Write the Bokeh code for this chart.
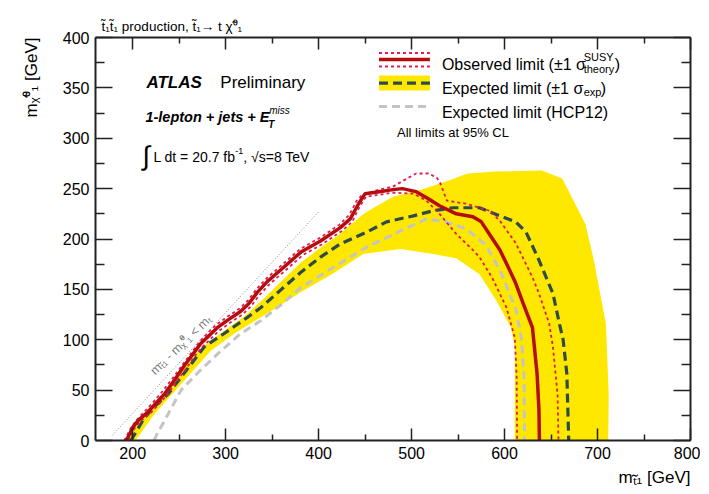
from math import pi, radians
from bokeh.plotting import figure
from bokeh.models import Label, LinearAxis, FixedTicker, Range1d, Title
from bokeh.embed import file_html
from bokeh.resources import INLINE

# ---------------- data (GeV) ----------------
# Observed limit
obs_x = [193, 196, 200, 206, 216, 225, 234, 245, 256, 265, 273, 282, 291, 303, 316, 325, 334, 345, 360, 381, 402, 423, 434, 443, 450, 465, 480, 490, 505, 518, 530, 548, 566, 575, 585, 595, 605, 612, 620, 630, 635, 637, 637.5]
obs_y = [0, 5, 13, 20, 28, 37, 46, 60, 75, 86, 96, 104, 112, 120, 128, 136, 147, 158, 170, 187, 198, 211, 220, 235, 245, 247, 249, 250, 247, 240, 233, 225, 222, 217, 203, 189, 170, 156, 136, 112, 66, 30, 0]
# Observed +1 sigma theory
up_x = [191, 195, 199, 205, 214, 224, 233, 244, 255, 264, 272, 281, 290, 302, 315, 324, 333, 344, 359, 380, 401, 422, 433, 441, 447, 465, 480, 495, 505, 518, 527, 531, 538, 559, 584, 595, 612, 630, 637, 648, 652, 657, 658]
up_y = [0, 7, 14, 21, 30, 40, 50, 63, 77, 88, 98, 107, 115, 123, 131, 139, 150, 161, 173, 190, 201, 214, 224, 238, 244, 249, 252, 260, 265, 265, 261, 255, 238, 235, 228, 218, 196, 162, 146, 116, 93, 46, 0]
# Observed -1 sigma theory
dn_x = [195, 198, 202, 208, 218, 227, 236, 247, 258, 267, 275, 284, 293, 305, 318, 327, 336, 347, 362, 383, 404, 425, 436, 444, 451, 480, 502, 516, 530, 548, 566, 573, 587, 602, 611, 613, 613.5]
dn_y = [0, 5, 12, 19, 26, 35, 44, 58, 72, 84, 93, 101, 109, 117, 125, 133, 144, 155, 167, 184, 195, 208, 217, 232, 242, 246, 245, 238, 225, 205, 189, 182, 161, 132, 102, 63, 0]
# Expected limit
exp_x = [198, 202, 213, 225, 238, 258, 277, 298, 323, 338, 360, 381, 402, 423, 452, 473, 502, 523, 545, 573, 595, 612, 623, 637, 652, 659, 663, 667, 669]
exp_y = [0, 6, 23, 35, 46, 70, 93, 106, 122, 132, 150, 167, 182, 195, 207, 217, 223, 228, 231, 231, 223, 217, 207, 179, 146, 116, 100, 66, 0]
# Expected limit (HCP12)
hcp_x = [223, 226, 238, 252, 273, 295, 316, 338, 360, 381, 416, 452, 488, 516, 537, 559, 580, 595, 612, 618, 621, 621.5]
hcp_y = [0, 6, 26, 50, 70, 89, 106, 119, 135, 152, 172, 192, 208, 220, 217, 210, 194, 169, 131, 102, 63, 0]
# +-1 sigma expected band
band_up_x = [194, 199, 214, 234, 254, 274, 300, 320, 340, 360, 380, 400, 420, 450, 480, 510, 540, 560, 590, 640, 662, 687, 696, 709, 712, 711.5]
band_up_y = [0, 12, 27, 45, 71, 92, 110, 123, 140, 158, 176, 190, 203, 226, 242, 249, 258, 265, 267, 268, 260, 215, 179, 116, 46, 0]
band_lo_x = [203, 224, 256, 284, 309, 334, 360, 380, 416, 448, 488, 523, 548, 573, 591, 607, 611, 611]
band_lo_y = [0, 27, 60, 89, 106, 120, 135, 147, 166, 185, 190, 185, 181, 165, 139, 112, 93, 0]
# kinematic boundary m_stop - m_LSP = m_top
m_top = 173
diag_x = [178, 400]
diag_y = [v - m_top for v in diag_x]

x_major = [200, 300, 400, 500, 600, 700, 800]
x_minor = [250, 350, 450, 550, 650, 750]
y_major = [0, 50, 100, 150, 200, 250, 300, 350, 400]
y_minor = [25, 75, 125, 175, 225, 275, 325, 375]

# ---------------- colours ----------------
C_OBS = "#b50d0d"
C_SIG = "#e8194d"
C_EXP = "#2f4a4a"
C_BAND = "#ffe800"
C_HCP = "#c4c4c4"
FONT = "Liberation Sans"

W, H = 700, 491
p = figure(width=W, height=H, x_range=Range1d(160, 800), y_range=Range1d(0, 400),
           output_backend="svg", toolbar_location=None, title=None,
           x_axis_location=None, y_axis_location=None,
           min_border_left=94, min_border_right=10, min_border_top=37, min_border_bottom=51)
p.outline_line_color = None
p.xgrid.grid_line_color = None
p.ygrid.grid_line_color = None


def make_axis(major, minor, tin, tmin, labels=True):
    ax = LinearAxis(ticker=FixedTicker(ticks=major, minor_ticks=minor),
                    major_tick_in=tin, major_tick_out=0, minor_tick_in=tmin, minor_tick_out=0,
                    axis_line_width=2, axis_line_color="#222222",
                    major_tick_line_width=1.5, major_tick_line_color="#222222",
                    minor_tick_line_width=1.5, minor_tick_line_color="#222222",
                    major_label_text_font=FONT, major_label_text_font_size="16px",
                    major_label_text_color="black", major_label_standoff=6)
    if not labels:
        ax.major_label_overrides = {t: "" for t in major}
        ax.major_label_standoff = 0
    return ax


p.add_layout(make_axis(x_major, x_minor, 12, 6), "below")
p.add_layout(make_axis(x_major, x_minor, 12, 6, labels=False), "above")
p.add_layout(make_axis(y_major, y_minor, 17, 9), "left")
p.add_layout(make_axis(y_major, y_minor, 17, 9, labels=False), "right")

# axis titles and header (side panels, not clipped)
p.add_layout(Title(text="t̃₁t̃₁ production, t̃₁→ t χ̃⁰₁", align="left", offset=6, standoff=7,
                   text_font=FONT, text_font_size="13.5px", text_font_style="normal",
                   text_color="black"), "above")
p.add_layout(Title(text="mᵪ̃⁰₁ [GeV]", align="right", standoff=38,
                   text_font=FONT, text_font_size="17px", text_font_style="normal",
                   text_color="black"), "left")
p.add_layout(Title(text="mₜ̃₁ [GeV]", align="right", standoff=9,
                   text_font=FONT, text_font_size="17px", text_font_style="normal",
                   text_color="black"), "below")

# ---------------- marks ----------------
p.patch(band_up_x + band_lo_x[::-1], band_up_y + band_lo_y[::-1], fill_color=C_BAND, line_color=None)
p.line(diag_x, diag_y, line_color="#888888", line_width=1, line_dash="1 2")
p.line(hcp_x, hcp_y, line_color=C_HCP, line_width=3, line_dash="8 5")
p.line(exp_x, exp_y, line_color=C_EXP, line_width=3.2, line_dash="9 5")
p.line(up_x, up_y, line_color=C_SIG, line_width=1.8, line_dash="3 3")
p.line(dn_x, dn_y, line_color=C_SIG, line_width=1.8, line_dash="3 3")
p.line(obs_x, obs_y, line_color=C_OBS, line_width=3.5)

# ---------------- page-pixel helpers for annotations ----------------
SX = 596 / 640
SY = 403 / 400


def X(px):
    return 160 + (px - 94) / SX


def Y(py):
    return (440 - py) / SY


def lab(px, py, text, size, color="black", style="normal", angle=0, align="left"):
    p.add_layout(Label(x=X(px), y=Y(py), text=text, text_font=FONT, text_font_size=f"{size}px",
                       text_color=color, text_font_style=style, text_baseline="alphabetic",
                       text_align=align, angle=angle))


# legend samples
lx = [X(378), X(429)]
p.line(lx, [Y(52.5)] * 2, line_color=C_SIG, line_width=1.8, line_dash="3 3")
p.line(lx, [Y(66)] * 2, line_color=C_SIG, line_width=1.8, line_dash="3 3")
p.line(lx, [Y(59)] * 2, line_color=C_OBS, line_width=3.5)
p.quad(left=X(378), right=X(429), bottom=Y(90), top=Y(75), fill_color=C_BAND, line_color=None)
p.line(lx, [Y(82.7)] * 2, line_color=C_EXP, line_width=3.2, line_dash="9 5")
p.line(lx, [Y(106)] * 2, line_color=C_HCP, line_width=3, line_dash="8 5")

# legend texts
lab(441, 64, "Observed limit (±1 σ", 16)
lab(583, 56, "SUSY", 11)
lab(583, 68, "theory", 11)
lab(614, 64, ")", 16)
lab(441, 88, "Expected limit (±1 σ", 16)
lab(583, 91, "exp", 11)
lab(600, 88, ")", 16)
lab(441, 112, "Expected limit (HCP12)", 16)
lab(396, 132, "All limits at 95% CL", 13)

# ATLAS block
lab(145, 82, "ATLAS", 17, style="bold italic")
lab(219, 82, "Preliminary", 17)
lab(144, 116, "1-lepton + jets + E", 14.5, style="bold italic")
lab(268, 110, "miss", 10, style="italic")
lab(267, 124, "T", 10, style="bold italic")
lab(141, 155, "∫", 27)
lab(152, 156, "L dt = 20.7 fb", 14)
lab(234, 150, "-1", 9)
lab(242, 156, ", √s=8 TeV", 14)

# diagonal label
lab(151, 372, "mₜ̃₁ - mᵪ̃⁰₁ < mₜ", 12.5, color="#7a7a7a", angle=radians(44))

open("out.html", "w").write(file_html(p, INLINE))
